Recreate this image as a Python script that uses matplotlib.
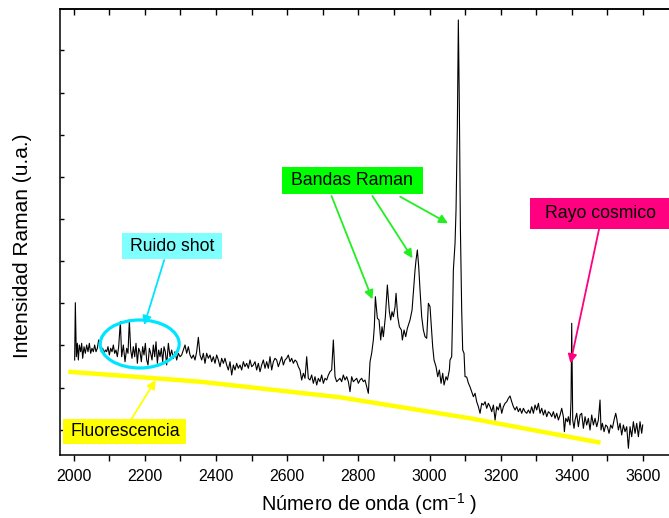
import matplotlib
matplotlib.use("Agg")
import matplotlib.pyplot as plt
from matplotlib.patches import Rectangle, Ellipse
from matplotlib.ticker import MultipleLocator, NullFormatter

plt.rcParams['font.family'] = ['Liberation Sans', 'DejaVu Sans']
plt.rcParams['mathtext.fontset'] = 'custom'
plt.rcParams['mathtext.rm'] = 'Liberation Sans'
plt.rcParams['mathtext.it'] = 'Liberation Sans'

# ---- Spectrum (wavenumber cm-1, intensity a.u.) ----
wn_a = [2002.7, 2004.6, 2007.4, 2010.2, 2013.0, 2015.8, 2019.6, 2022.4, 2025.2, 2029.0,
        2032.7, 2036.4, 2040.2, 2043.9, 2047.7, 2051.4, 2055.2, 2058.9, 2062.7, 2066.4,
        2070.2, 2073.9, 2077.7, 2081.4, 2085.2, 2088.9, 2092.7, 2096.4, 2100.2, 2103.9,
        2107.7, 2111.4, 2115.1, 2118.9, 2122.6, 2126.4, 2131.1, 2134.8, 2139.5, 2144.2,
        2148.9, 2152.6, 2156.4, 2160.1, 2163.9, 2167.6, 2171.4, 2175.1, 2178.9, 2182.6,
        2186.3, 2190.1, 2193.8, 2197.6, 2201.3, 2205.1, 2208.8, 2212.6, 2216.3, 2220.1,
        2223.8, 2227.6, 2231.3, 2235.1, 2238.8, 2242.6, 2246.3, 2250.1, 2253.8, 2257.5,
        2261.3, 2266.0]
in_a = [95.0, 152.3, 98.3, 111.7, 95.0, 110.0, 103.3, 111.7, 96.7, 108.3,
        101.7, 110.0, 103.3, 111.7, 101.7, 106.7, 103.3, 110.0, 103.3, 106.7,
        115.0, 111.7, 103.3, 106.7, 101.7, 105.0, 103.3, 108.3, 100.0, 106.7,
        103.3, 110.0, 101.7, 105.0, 98.3, 108.3, 133.3, 98.3, 110.0, 93.3,
        106.7, 101.7, 135.0, 105.0, 96.7, 108.3, 98.3, 111.7, 91.7, 106.7,
        103.3, 93.3, 108.3, 100.0, 111.7, 95.0, 90.0, 106.7, 101.7, 95.0,
        110.0, 98.3, 113.3, 91.7, 105.0, 98.3, 106.7, 93.3, 108.3, 103.3,
        90.0, 111.7]

wn_b = [2270.7, 2275.3, 2280.0, 2284.7, 2289.4, 2294.1, 2298.8, 2303.4, 2308.1, 2312.8,
        2317.5, 2322.2, 2326.9, 2331.5, 2336.2, 2340.9, 2345.6, 2350.3, 2355.0, 2359.7,
        2364.3, 2369.0, 2373.7, 2378.4, 2383.1, 2387.8, 2392.4, 2397.1, 2401.8, 2406.5,
        2411.2, 2415.9, 2420.6, 2425.2, 2429.9, 2434.6, 2439.3, 2444.0, 2448.7, 2453.3,
        2458.0, 2462.7, 2467.4, 2472.1, 2476.8, 2481.4, 2486.1, 2490.8, 2495.5, 2500.2,
        2504.9, 2509.6, 2514.2, 2518.9, 2523.6, 2528.3, 2533.0, 2537.7, 2542.3, 2547.0,
        2551.7, 2556.4, 2561.1, 2565.8]
in_b = [98.3, 105.0, 96.7, 103.3, 95.0, 101.7, 98.3, 100.0, 105.0, 110.0,
        101.7, 108.3, 100.0, 96.7, 100.0, 95.0, 103.3, 117.7, 100.0, 95.0,
        101.7, 91.7, 101.7, 96.7, 100.0, 93.3, 98.3, 91.7, 100.0, 95.0,
        88.3, 96.7, 91.7, 96.7, 90.0, 85.0, 93.3, 80.0, 90.0, 85.0,
        91.7, 86.7, 90.0, 85.0, 93.3, 88.3, 91.7, 86.7, 95.0, 88.3,
        90.0, 93.3, 85.0, 91.7, 83.3, 90.0, 95.0, 86.7, 93.3, 86.7,
        98.3, 85.0, 93.3, 96.7]

wn_c = [2570.4, 2575.1, 2579.8, 2584.5, 2589.2, 2593.9, 2598.5, 2603.2, 2607.9, 2612.6,
        2617.3, 2622.0, 2626.7, 2631.3, 2636.0, 2640.7, 2645.4, 2650.1, 2654.8, 2659.4,
        2664.1, 2668.8, 2673.5, 2678.2, 2682.9, 2687.5, 2692.2, 2696.9, 2701.6, 2706.3,
        2711.0, 2715.7, 2720.3, 2725.0, 2729.7, 2734.4, 2739.1, 2743.8, 2748.4, 2753.1,
        2757.8, 2762.5, 2767.2, 2771.9, 2776.5, 2781.2, 2785.9, 2790.6, 2795.3, 2800.0,
        2804.7, 2809.3, 2814.0, 2818.7, 2823.4, 2828.1, 2832.8, 2837.4, 2842.1, 2844.9]
in_c = [95.0, 88.3, 93.3, 98.3, 90.0, 95.0, 96.7, 100.0, 93.3, 96.7,
        91.7, 95.0, 93.3, 88.3, 85.0, 75.0, 81.7, 76.7, 98.3, 76.7,
        75.0, 80.0, 71.7, 78.3, 70.0, 76.7, 73.3, 80.0, 71.7, 76.7,
        75.0, 80.0, 83.3, 85.0, 115.0, 78.3, 73.3, 75.0, 76.7, 73.3,
        80.0, 75.0, 78.3, 73.3, 63.3, 78.3, 73.3, 75.0, 76.7, 71.7,
        75.0, 76.7, 73.3, 75.0, 68.3, 61.7, 93.3, 101.7, 115.0, 128.3]

wn_d = [2847.8, 2853.4, 2858.1, 2862.8, 2866.5, 2870.3, 2875.9, 2881.5, 2887.1, 2890.9,
        2894.6, 2898.4, 2903.1, 2905.9, 2910.6, 2915.3, 2920.9, 2923.7, 2928.4, 2933.1,
        2937.7, 2945.2, 2950.9, 2954.6, 2959.3, 2962.1, 2965.8, 2969.6, 2973.3, 2978.0,
        2982.7, 2987.4, 2992.1, 2996.8, 3001.4, 3005.2, 3008.9, 3012.7, 3018.3, 3023.0,
        3027.7, 3032.4, 3037.1, 3040.8, 3046.4, 3050.2, 3055.8]
in_d = [158.3, 136.7, 135.0, 115.0, 128.3, 118.3, 138.3, 170.0, 143.3, 135.0,
        143.3, 138.3, 148.3, 161.7, 138.3, 128.3, 125.0, 115.0, 125.0, 118.3,
        126.7, 135.0, 145.0, 163.3, 185.0, 195.0, 205.0, 188.3, 165.0, 138.3,
        125.0, 118.3, 116.7, 151.7, 148.3, 128.3, 108.3, 95.0, 88.3, 78.3,
        85.0, 71.7, 81.7, 70.0, 78.3, 75.0, 85.0]

wn_e = [3057.6, 3062.3, 3065.1, 3067.0, 3071.7, 3074.5, 3078.2, 3081.0, 3083.9, 3086.7,
        3090.4, 3093.2, 3097.0, 3099.8, 3104.5, 3109.1, 3114.0]
in_e = [95.0, 98.3, 145.0, 185.0, 211.7, 245.0, 328.3, 435.0, 345.0, 228.3,
        145.0, 105.0, 101.7, 78.3, 78.0, 72.0, 68.0]

wn_f = [3118.6, 3123.3, 3128.0, 3132.6, 3137.3, 3142.0, 3146.7, 3151.4, 3156.1, 3160.7,
        3165.4, 3170.1, 3174.8, 3179.5, 3184.2, 3188.9, 3193.5, 3198.2, 3202.9, 3207.6,
        3212.3, 3217.0, 3221.6, 3226.3, 3231.0, 3235.7, 3240.4, 3245.1, 3249.7, 3254.4,
        3259.1, 3263.8, 3268.5, 3273.2, 3277.9, 3282.5, 3287.2, 3291.9, 3296.6, 3301.3,
        3306.0, 3310.6, 3315.3, 3320.0, 3324.7, 3329.4, 3334.1, 3338.7, 3343.4, 3348.1,
        3352.8, 3357.5, 3362.2, 3366.9, 3371.5, 3376.2, 3379.0, 3382.8, 3387.5]
in_f = [63.3, 58.3, 61.7, 53.3, 48.3, 41.7, 51.7, 50.0, 53.3, 46.7,
        51.7, 48.3, 43.3, 50.0, 35.0, 48.3, 45.0, 51.7, 41.7, 48.3,
        51.7, 53.3, 56.7, 59.0, 53.3, 48.3, 45.0, 48.3, 43.3, 46.7,
        41.7, 46.7, 43.3, 41.7, 45.0, 41.7, 48.3, 41.7, 50.0, 45.0,
        51.7, 41.7, 46.7, 40.0, 45.0, 38.3, 43.3, 41.7, 38.3, 43.3,
        36.7, 41.7, 35.0, 40.0, 46.7, 38.3, 23.3, 36.7, 33.3]

wn_g = [3390.2, 3394.9, 3397.7, 3399.6, 3402.4, 3406.1, 3409.0, 3413.6, 3418.3, 3423.0,
        3427.7, 3432.4, 3437.1, 3441.7, 3446.4, 3451.1, 3455.8, 3460.5, 3465.2, 3469.9,
        3474.5, 3479.2, 3482.0, 3485.8, 3490.5, 3495.2, 3499.8, 3504.5, 3509.2, 3513.9,
        3518.6, 3523.3, 3526.1, 3530.8, 3535.4, 3540.1, 3544.8, 3549.5, 3554.2, 3558.9,
        3563.5, 3568.2, 3572.9, 3577.6, 3582.3, 3587.0, 3591.6, 3596.3, 3599.1]
in_g = [38.3, 30.0, 55.0, 131.7, 35.0, 26.7, 35.0, 41.7, 28.3, 40.0,
        41.7, 26.7, 38.3, 30.0, 36.7, 25.0, 40.0, 30.0, 36.7, 28.3,
        35.0, 55.0, 25.0, 31.7, 23.3, 30.0, 28.3, 21.7, 30.0, 26.7,
        35.0, 41.7, 36.7, 25.0, 31.7, 20.0, 30.0, 23.3, 28.3, 6.7,
        28.3, 18.3, 33.3, 21.7, 31.7, 18.3, 33.3, 21.7, 30.0]

wavenumber = wn_a + wn_b + wn_c + wn_d + wn_e + wn_f + wn_g
intensity = in_a + in_b + in_c + in_d + in_e + in_f + in_g

# fluorescence baseline sketch
fluor_wn = [1984.8, 2355.2, 2748.6, 3113.9, 3480.7]
fluor_in = [83.3, 73.3, 57.7, 36.7, 12.3]

xtick_vals = [2000, 2200, 2400, 2600, 2800, 3000, 3200, 3400, 3600]
xtick_labels = ['2000', '2200', '2400', '2600', '2800', '3000', '3200', '3400', '3600']
ytick_vals = [25, 67, 110, 152, 194, 236, 278, 320, 362, 405]

fig = plt.figure(figsize=(6.69, 5.18), dpi=100)
ax = fig.add_axes([60/669, 1-455/518, 618.6/669, 446/518])

ax.plot(wavenumber, intensity, color='black', lw=0.8, zorder=3)
ax.plot(fluor_wn, fluor_in, color='#FFFF00', lw=3.2, solid_capstyle='butt',
        solid_joinstyle='round', zorder=2)

ax.set_xlim(1961.5, 3700)
ax.set_ylim(0, 446)
ax.set_xticks(xtick_vals)
ax.set_xticklabels(xtick_labels)
ax.xaxis.set_minor_locator(MultipleLocator(100))
ax.set_yticks(ytick_vals)
ax.yaxis.set_major_formatter(NullFormatter())
ax.tick_params(axis='x', which='both', direction='out', length=4, width=1.0,
               labelsize=11.4, pad=6, top=False)
ax.tick_params(axis='y', which='both', direction='in', length=3, width=1.0,
               left=True, right=False)
for s in ax.spines.values():
    s.set_linewidth(1.1)

# top ticks inward (mirror)
sec = ax.secondary_xaxis('top')
sec.set_xticks(xtick_vals)
sec.set_xticklabels([''] * len(xtick_vals))
sec.xaxis.set_minor_locator(MultipleLocator(100))
sec.tick_params(axis='x', which='both', direction='in', length=4, width=1.0)
sec.spines['top'].set_linewidth(1.1)

ax.set_xlabel('Número de onda (cm$^{-1}$ )', fontsize=14.3, labelpad=5)
ax.set_ylabel('Intensidad Raman (u.a.)', fontsize=15)
ax.yaxis.set_label_coords(-0.045, 0.4686)

# ---- annotations ----
fs = 12.7
def box(x0, x1, y0, y1, color):
    ax.add_patch(Rectangle((x0, y0), x1 - x0, y1 - y0, facecolor=color,
                           edgecolor='none', zorder=5, clip_on=False))

box(2136.9, 2416.8, 196, 222, '#80FFFF')
ax.text(2277.1, 209, 'Ruido shot', fontsize=fs, ha='center', va='center', zorder=6)
box(2584.3, 2981.7, 261, 288, '#00FF00')
ax.text(2783, 274.5, 'Bandas Raman', fontsize=fs, ha='center', va='center', zorder=6)
box(3282.5, 3686, 226, 257, '#FF0080')
ax.text(3479.2, 241.5, 'Rayo cosmico', fontsize=fs, ha='center', va='center', zorder=6)
box(1969.9, 2315.6, 11, 36, '#FFFF00')
ax.text(2144.2, 23.5, 'Fluorescencia', fontsize=fs, ha='center', va='center', zorder=6)

ax.add_patch(Ellipse((2185.5, 111), 222, 48, facecolor='none', edgecolor='#00E5FF',
                     lw=2.3, zorder=4))

def arrow(x0, y0, x1, y1, color):
    ax.annotate('', xy=(x1, y1), xytext=(x0, y0),
                arrowprops=dict(arrowstyle='-|>', color=color, lw=1.3,
                                mutation_scale=13, shrinkA=0, shrinkB=0), zorder=6)

arrow(2254.4, 195, 2198.1, 130, '#00E5FF')
arrow(2724.6, 259, 2839.5, 155.7, '#22EE22')
arrow(2839.5, 259, 2952.2, 196.7, '#22EE22')
arrow(2917.7, 258.3, 3052.0, 231.7, '#22EE22')
arrow(3477.5, 227.7, 3396.0, 91.7, '#FF0080')
arrow(2162.2, 36, 2230.5, 75, '#FFFF00')

fig.savefig('out.png', dpi=100)
